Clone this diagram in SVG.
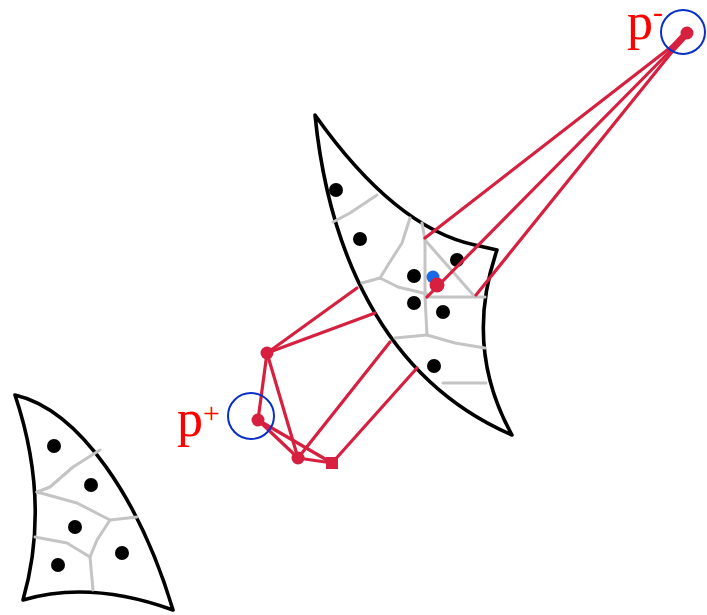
<svg xmlns="http://www.w3.org/2000/svg" width="707" height="615" viewBox="0 0 707 615">
<style>
.outline{fill:#ffffff;stroke:#000000;stroke-width:3.6;stroke-linejoin:round}
.vor{fill:none;stroke:#c4c4c4;stroke-width:3;stroke-linejoin:round;stroke-linecap:round}
.site{fill:#000000}
.edge{fill:none;stroke:#d7203f;stroke-width:3.2;stroke-linecap:round}
.node{fill:#d7203f}
.ring{fill:none;stroke:#0a2fc8;stroke-width:2}
.lbl{fill:#ff0000;font-family:"Liberation Serif","Times New Roman",serif}
</style>
<g id="region-main">
<path class="outline" d="M315,115 Q395,228 475,245 L497,250 Q463.5,347.5 512,435 C380,378 328,245 315,115 Z"/>
<polyline class="vor" points="333,222 350,213 377,195"/>
<polyline class="vor" points="410,218 402,243 388,265 380,278 362,283"/>
<polyline class="vor" points="380,278 398,287 427,294"/>
<polyline class="vor" points="422,223 425,240 425,297 427,335"/>
<polyline class="vor" points="425,240 475,297"/>
<polyline class="vor" points="426,297 485,297"/>
<polyline class="vor" points="427,335 395,338"/>
<polyline class="vor" points="427,335 455,343 485,348"/>
<polyline class="vor" points="443,383 486,383"/>
<circle class="site" cx="336" cy="190" r="7"/>
<circle class="site" cx="360" cy="239" r="7"/>
<circle class="site" cx="414" cy="276" r="7"/>
<circle class="site" cx="457" cy="260" r="7"/>
<circle class="site" cx="414" cy="303" r="7"/>
<circle class="site" cx="443" cy="312" r="7"/>
<circle class="site" cx="434" cy="366" r="7"/>
</g>
<g id="region-left">
<path class="outline" d="M15,395 C80,410 140,500 173,610 Q90,580 23,600 Q51,502.5 15,395 Z"/>
<polyline class="vor" points="37,492 50,487 73,467 100,450"/>
<polyline class="vor" points="37,492 77,503 110,520 137,517"/>
<polyline class="vor" points="110,520 97,540 90,557 93,590"/>
<polyline class="vor" points="35,537 67,543 90,557"/>
<circle class="site" cx="54" cy="446" r="7"/>
<circle class="site" cx="91" cy="485" r="7"/>
<circle class="site" cx="75" cy="527" r="7"/>
<circle class="site" cx="122" cy="553" r="7"/>
<circle class="site" cx="58" cy="565" r="7"/>
</g>
<g id="connectors">
<line class="edge" x1="684" y1="37" x2="425" y2="238"/>
<line class="edge" x1="684" y1="37" x2="427" y2="297"/>
<line class="edge" x1="684" y1="37" x2="476" y2="295"/>
<line class="edge" x1="267" y1="353" x2="357" y2="288"/>
<line class="edge" x1="267" y1="353" x2="375" y2="313"/>
<line class="edge" x1="267" y1="353" x2="258" y2="420"/>
<line class="edge" x1="267" y1="353" x2="298" y2="458"/>
<line class="edge" x1="258" y1="420" x2="298" y2="458"/>
<line class="edge" x1="258" y1="420" x2="332" y2="463"/>
<line class="edge" x1="298" y1="458" x2="332" y2="463"/>
<line class="edge" x1="298" y1="458" x2="390" y2="342"/>
<line class="edge" x1="332" y1="463" x2="417" y2="368"/>
</g>
<g id="node-pminus">
<line x1="687" y1="33" x2="673" y2="48" stroke="#d7203f" stroke-width="7" stroke-linecap="round"/>
<circle class="node" cx="687" cy="33" r="6.5"/>
<circle class="ring" cx="683" cy="32" r="22"/>
<text class="lbl" x="627" y="39" font-size="52">p<tspan font-size="30" dy="-17">-</tspan></text>
</g>
<g id="node-pplus">
<circle class="node" cx="258" cy="420" r="6.5"/>
<circle class="ring" cx="251" cy="416" r="23"/>
<text class="lbl" x="177" y="436" font-size="52">p<tspan font-size="30" dy="-13">+</tspan></text>
</g>
<g id="node-a"><circle class="node" cx="267" cy="353" r="6.5"/></g>
<g id="node-c"><circle class="node" cx="298" cy="458" r="6.5"/></g>
<g id="node-d"><rect class="node" x="326" y="457" width="12" height="12"/></g>
<g id="node-center">
<circle cx="433" cy="277" r="6.5" fill="#1a6ae8"/>
<circle class="node" cx="437" cy="285" r="7.5"/>
</g>
</svg>
